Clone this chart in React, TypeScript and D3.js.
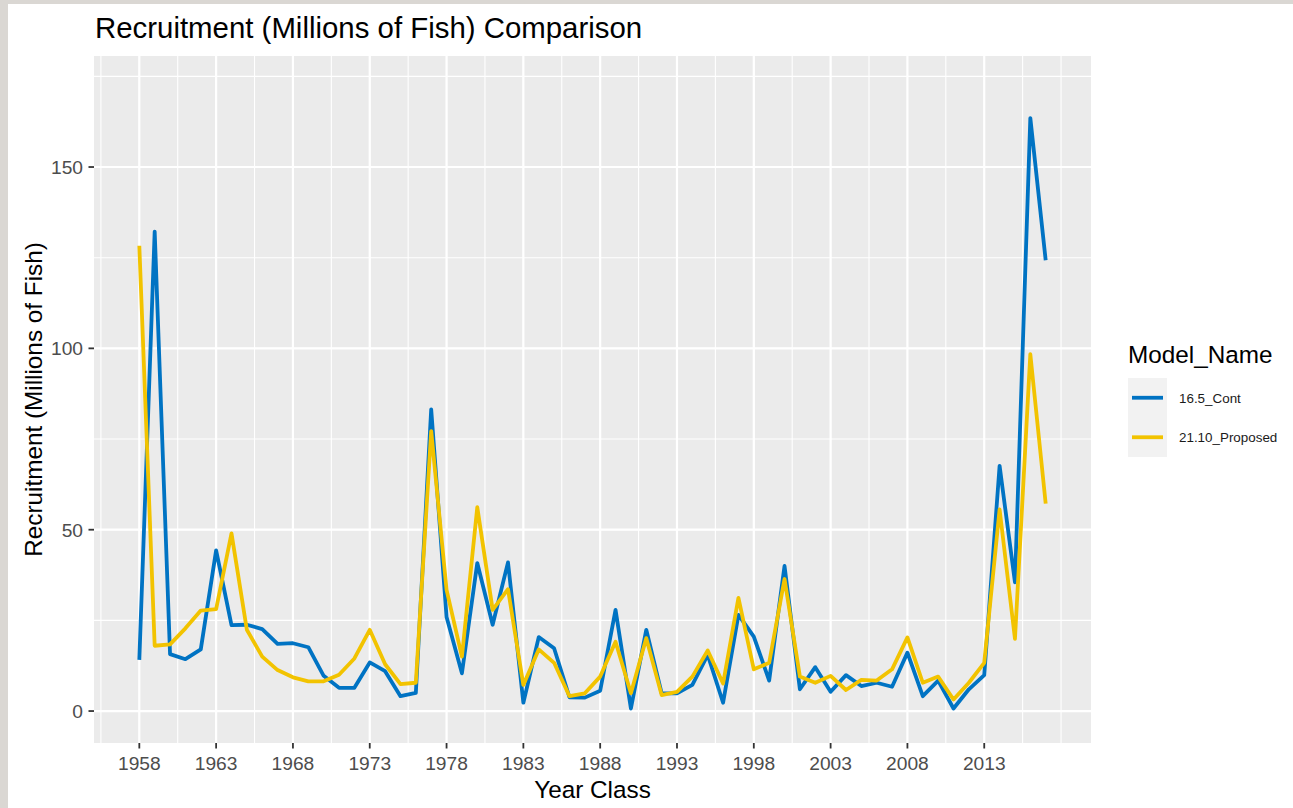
import React from "react";
import * as d3 from "d3";

// Year classes and recruitment estimates (millions of fish) for each model run
const yearClasses = [
  1958, 1959, 1960, 1961, 1962, 1963, 1964, 1965, 1966, 1967,
  1968, 1969, 1970, 1971, 1972, 1973, 1974, 1975, 1976, 1977,
  1978, 1979, 1980, 1981, 1982, 1983, 1984, 1985, 1986, 1987,
  1988, 1989, 1990, 1991, 1992, 1993, 1994, 1995, 1996, 1997,
  1998, 1999, 2000, 2001, 2002, 2003, 2004, 2005, 2006, 2007,
  2008, 2009, 2010, 2011, 2012, 2013, 2014, 2015, 2016, 2017,
];

const cont165 = [
  14.1, 132.2, 15.7, 14.3, 17.0, 44.3, 23.7, 23.8, 22.6, 18.5,
  18.7, 17.6, 9.7, 6.4, 6.4, 13.4, 11.0, 4.1, 5.0, 83.2,
  25.9, 10.4, 40.8, 23.8, 41.0, 2.3, 20.4, 17.3, 3.8, 3.7,
  5.6, 27.9, 0.7, 22.4, 4.9, 4.9, 7.2, 15.5, 2.3, 26.5,
  20.5, 8.4, 40.0, 6.0, 12.1, 5.3, 9.9, 6.9, 7.8, 6.7,
  16.1, 4.1, 8.4, 0.7, 6.0, 9.9, 67.6, 35.5, 163.5, 124.3,
];

const proposed2110 = [
  128.3, 18.0, 18.4, 22.8, 27.7, 28.1, 49.0, 22.4, 15.0, 11.3,
  9.3, 8.2, 8.2, 10.0, 14.5, 22.4, 12.9, 7.4, 7.8, 77.2,
  33.4, 15.0, 56.2, 27.9, 33.6, 7.2, 17.0, 13.3, 4.1, 4.9,
  9.5, 19.1, 4.9, 20.1, 4.4, 5.3, 9.5, 16.7, 7.6, 31.2,
  11.5, 13.3, 36.4, 9.5, 7.8, 9.7, 5.8, 8.6, 8.4, 11.5,
  20.3, 7.8, 9.5, 3.2, 7.8, 13.3, 55.6, 19.9, 98.4, 57.2,
];

const seriesNames = ["16.5_Cont", "21.10_Proposed"];
const seriesColors = ["#0073C3", "#F2C300"];

const xBreaks = [1958, 1963, 1968, 1973, 1978, 1983, 1988, 1993, 1998, 2003, 2008, 2013];
const yBreaks = [0, 50, 100, 150];

const W = 1293;
const H = 808;
const panel = { left: 94, right: 1091, top: 56, bottom: 743 };
const font = "'Liberation Sans', Arial, sans-serif";

export default function App() {
  // continuous scales with ggplot-style 5% padding around the data range
  const xMin = d3.min(yearClasses)!;
  const xMax = d3.max(yearClasses)!;
  const xPad = (xMax - xMin) * 0.05;
  const x = d3
    .scaleLinear()
    .domain([xMin - xPad, xMax + xPad])
    .range([panel.left, panel.right]);

  const yLo = -0.2;
  const yHi = 172;
  const yPad = (yHi - yLo) * 0.05;
  const y = d3
    .scaleLinear()
    .domain([yLo - yPad, yHi + yPad])
    .range([panel.bottom, panel.top]);

  const xMinor: number[] = [];
  for (let v = xBreaks[0] - 5; v <= xBreaks[xBreaks.length - 1] + 5; v += 2.5) {
    const px = x(v);
    if (px > panel.left && px < panel.right) xMinor.push(v);
  }
  const yMinor: number[] = [];
  for (let v = -25; v <= 200; v += 25) {
    const py = y(v);
    if (py > panel.top && py < panel.bottom) yMinor.push(v);
  }

  const line = d3
    .line<number>()
    .x((_, i) => x(yearClasses[i]))
    .y((d) => y(d));

  const series = [cont165, proposed2110];

  const legendX = 1128;
  const keyTop = 378;
  const keyH = 39.5;

  return (
    <div style={{ position: "fixed", left: 0, top: 0 }}>
      <svg width={W} height={H} style={{ display: "block", background: "#fff" }}>
        {/* window frame strips */}
        <rect x={0} y={0} width={W} height={4} fill="#DAD7D3" />
        <rect x={0} y={0} width={8} height={H} fill="#DAD7D3" />

        <text x={95} y={38} fontFamily={font} fontSize={29.4} fill="#000">
          Recruitment (Millions of Fish) Comparison
        </text>

        {/* panel */}
        <rect
          x={panel.left}
          y={panel.top}
          width={panel.right - panel.left}
          height={panel.bottom - panel.top}
          fill="#EBEBEB"
        />
        {xMinor.map((v) => (
          <line key={"xm" + v} x1={x(v)} x2={x(v)} y1={panel.top} y2={panel.bottom} stroke="#fff" strokeWidth={1.1} />
        ))}
        {yMinor.map((v) => (
          <line key={"ym" + v} x1={panel.left} x2={panel.right} y1={y(v)} y2={y(v)} stroke="#fff" strokeWidth={1.1} />
        ))}
        {xBreaks.map((v) => (
          <line key={"xM" + v} x1={x(v)} x2={x(v)} y1={panel.top} y2={panel.bottom} stroke="#fff" strokeWidth={2.2} />
        ))}
        {yBreaks.map((v) => (
          <line key={"yM" + v} x1={panel.left} x2={panel.right} y1={y(v)} y2={y(v)} stroke="#fff" strokeWidth={2.2} />
        ))}

        {/* series lines */}
        {series.map((s, i) => (
          <path
            key={seriesNames[i]}
            d={line(s) || ""}
            fill="none"
            stroke={seriesColors[i]}
            strokeWidth={3.8}
            strokeLinejoin="round"
            strokeLinecap="butt"
          />
        ))}

        {/* x axis */}
        {xBreaks.map((v) => (
          <g key={"xt" + v}>
            <line x1={x(v)} x2={x(v)} y1={panel.bottom} y2={panel.bottom + 5.5} stroke="#333" strokeWidth={1.8} />
            <text x={x(v)} y={770} textAnchor="middle" fontFamily={font} fontSize={19.2} fill="#4D4D4D">
              {v}
            </text>
          </g>
        ))}
        <text x={(panel.left + panel.right) / 2} y={798} textAnchor="middle" fontFamily={font} fontSize={24.3} fill="#000">
          Year Class
        </text>

        {/* y axis */}
        {yBreaks.map((v) => (
          <g key={"yt" + v}>
            <line x1={panel.left - 5.5} x2={panel.left} y1={y(v)} y2={y(v)} stroke="#333" strokeWidth={1.8} />
            <text x={83} y={y(v) + 7} textAnchor="end" fontFamily={font} fontSize={19.2} fill="#4D4D4D">
              {v}
            </text>
          </g>
        ))}
        <text
          transform={`translate(41.5, ${(panel.top + panel.bottom) / 2}) rotate(-90)`}
          textAnchor="middle"
          fontFamily={font}
          fontSize={24.3}
          fill="#000"
        >
          Recruitment (Millions of Fish)
        </text>

        {/* legend */}
        <text x={legendX} y={363} fontFamily={font} fontSize={24.3} fill="#000">
          Model_Name
        </text>
        <rect x={legendX} y={keyTop} width={39} height={keyH * 2} fill="#F2F2F2" />
        {seriesNames.map((name, i) => {
          const cy = keyTop + keyH * i + keyH / 2;
          return (
            <g key={"lg" + name}>
              <line x1={legendX + 4} x2={legendX + 35} y1={cy} y2={cy} stroke={seriesColors[i]} strokeWidth={3.8} />
              <text x={1179} y={cy + 4.8} fontFamily={font} fontSize={13.4} fill="#1A1A1A">
                {name}
              </text>
            </g>
          );
        })}
      </svg>
    </div>
  );
}
